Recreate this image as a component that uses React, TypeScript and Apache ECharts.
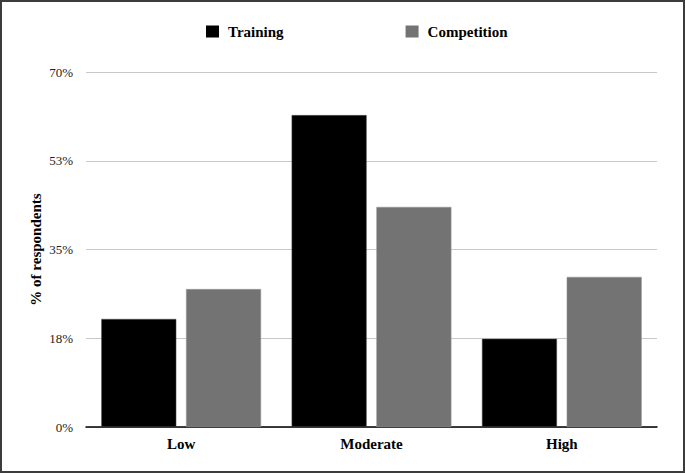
import React, { useEffect, useRef } from "react";
import * as echarts from "echarts";

const categories = ["Low", "Moderate", "High"];
const training = [21.3, 61.5, 17.4];
const competition = [27.2, 43.4, 29.6];
const yTicks = [0, 17.5, 35, 52.5, 70];

export default function App() {
  const ref = useRef<HTMLDivElement>(null);
  useEffect(() => {
    document.body.style.margin = "0";
    const chart = echarts.init(ref.current!, null, { renderer: "svg" });
    const font = "'Liberation Serif', 'Times New Roman', serif";
    chart.setOption({
      animation: false,
      backgroundColor: "#ffffff",
      textStyle: { fontFamily: font },
      legend: {
        left: 206,
        top: 24,
        padding: 0,
        itemWidth: 13,
        itemHeight: 12,
        itemGap: 122,
        icon: "rect",
        itemStyle: { borderWidth: 0 },
        textStyle: {
          fontFamily: font,
          fontWeight: "bold",
          fontSize: 15,
          color: "#000",
          padding: [0, 0, 0, 4],
        },
        data: ["Training", "Competition"],
      },
      grid: { left: 86, right: 28, top: 72, bottom: 46, containLabel: false },
      xAxis: {
        type: "category",
        data: categories,
        axisLine: { lineStyle: { color: "#000", width: 1.5 } },
        axisTick: { show: false },
        axisLabel: { fontFamily: font, fontWeight: "bold", fontSize: 15, color: "#000", margin: 9 },
      },
      yAxis: {
        type: "value",
        min: yTicks[0],
        max: yTicks[yTicks.length - 1],
        interval: yTicks[1] - yTicks[0],
        name: "% of respondents",
        nameLocation: "middle",
        nameGap: 43,
        nameRotate: 90,
        nameMoveOverlap: false,
        nameTextStyle: { fontFamily: font, fontWeight: "bold", fontSize: 15, color: "#000" },
        axisLine: { show: false },
        axisTick: { show: false },
        axisLabel: {
          fontFamily: font,
          fontSize: 13,
          color: "#222",
          margin: 13,
          formatter: (v: number) => Math.round(v) + "%",
        },
        splitLine: { lineStyle: { color: "#c8c8c8", width: 1 } },
      },
      series: [
        {
          name: "Training",
          type: "bar",
          data: training,
          barWidth: 75,
          barGap: "13%",
          itemStyle: { color: "#000000", borderColor: "#555", borderWidth: 0.5 },
        },
        {
          name: "Competition",
          type: "bar",
          data: competition,
          barWidth: 75,
          barGap: "13%",
          itemStyle: { color: "#737373", borderColor: "#999", borderWidth: 0.5 },
        },
      ],
    });
    return () => chart.dispose();
  }, []);
  return (
    <div style={{ position: "absolute", left: 0, top: 0, width: 685, height: 473, background: "#fff" }}>
      <div ref={ref} style={{ position: "absolute", left: 0, top: 0, width: 685, height: 473 }} />
      <div
        style={{
          position: "absolute",
          left: 0,
          top: 0,
          width: 685,
          height: 473,
          boxSizing: "border-box",
          border: "2px solid #3c3c3c",
          pointerEvents: "none",
        }}
      />
    </div>
  );
}
